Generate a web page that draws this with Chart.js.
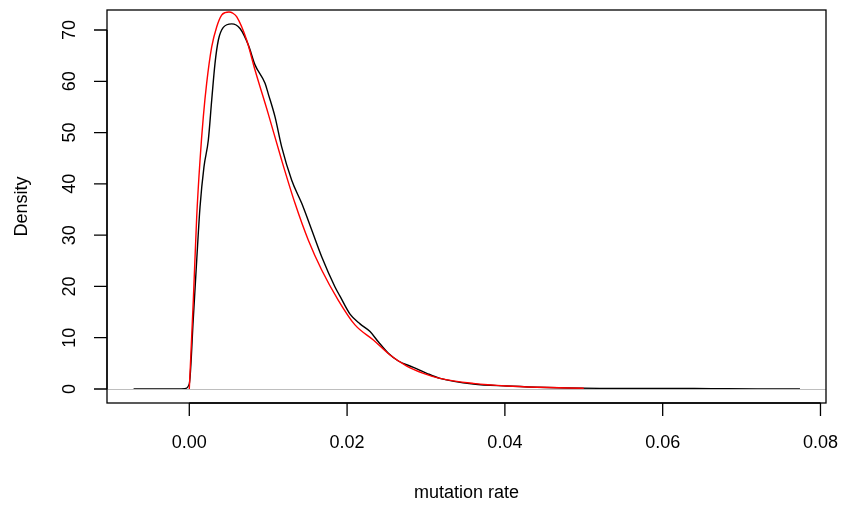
<!DOCTYPE html>
<html>
<head>
<meta charset="utf-8">
<script src="https://cdn.jsdelivr.net/npm/chart.js@4"></script>
<style>
  html, body { margin: 0; padding: 0; background: #fff; }
  #wrap { width: 843px; height: 506px; }
</style>
</head>
<body>
<div id="wrap"><canvas id="density-chart"></canvas></div>
<script>
const obsX = [-0.00706, -0.004, -0.002, -0.0006, 0, 0.0005, 0.00094, 0.00136, 0.00186, 0.00241,
    0.00284, 0.00326, 0.00368, 0.00431, 0.00538, 0.00643, 0.00748, 0.00833, 0.0096, 0.01,
    0.01086, 0.01171, 0.01298, 0.01425, 0.01552, 0.01678, 0.01847, 0.0191, 0.02037, 0.02164,
    0.02291, 0.02396, 0.02523, 0.0265, 0.0284, 0.0301, 0.03178, 0.036, 0.04024, 0.044,
    0.048, 0.052, 0.056, 0.06, 0.064, 0.068, 0.072, 0.0774];
const obsY = [0, 0, 0, 0.05, 1.0, 13.5, 25.1, 35.5, 43.3, 48.5,
    56.3, 63.5, 68.0, 70.5, 71.2, 70.3, 67.1, 63.2, 59.6, 57.6,
    53.1, 47.2, 40.7, 36.2, 31.0, 25.8, 19.9, 18.1, 14.6, 12.7,
    11.2, 9.2, 6.96, 5.46, 4.23, 3.06, 2.08, 0.97, 0.58, 0.35,
    0.2, 0.12, 0.1, 0.12, 0.1, 0.06, 0.03, 0.01];

// fitted density (red)
const fitX = [0, 0.00051, 0.00094, 0.00136, 0.00178, 0.0022, 0.00284, 0.00347, 0.0041, 0.00455,
    0.00503, 0.0055, 0.006, 0.00728, 0.00833, 0.01, 0.01171, 0.0134, 0.01509, 0.01678,
    0.01889, 0.021, 0.02333, 0.02544, 0.02756, 0.02967, 0.03178, 0.036, 0.04024, 0.04446,
    0.05];
const fitY = [0, 17.3, 33.6, 44.6, 53.1, 59.6, 66.7, 70.6, 72.9, 73.4,
    73.5, 73.3, 72.6, 68.0, 62.2, 53.7, 44.6, 36.2, 29.0, 23.2,
    17.3, 12.5, 9.55, 6.63, 4.48, 3.06, 2.08, 1.1, 0.58, 0.33,
    0.15];

const xTicks = [0, 0.02, 0.04, 0.06, 0.08];
const yTicks = [0, 10, 20, 30, 40, 50, 60, 70];

const xTitle = "mutation rate";
const yTitle = "Density";

const FONT = '18px "Liberation Sans", Arial, sans-serif';

const pairs = (xs, ys) => xs.map((x, i) => ({ x: x, y: ys[i] }));

// R-style box, axes, zero line and labels
const rFrame = {
    id: "rFrame",
    afterDatasetDraw(chart, args) {
        // zero line goes over the black curve, under the red one
        if (args.index !== 1) return;
        const { ctx, chartArea: a, scales } = chart;
        const y0 = Math.round(scales.y.getPixelForValue(0)) + 0.5;
        ctx.save();
        ctx.strokeStyle = "#bebebe";
        ctx.lineWidth = 1;
        ctx.beginPath();
        ctx.moveTo(a.left, y0);
        ctx.lineTo(a.right, y0);
        ctx.stroke();
        ctx.restore();
    },
    afterDraw(chart) {
        const { ctx, chartArea: a, scales } = chart;
        const xs = scales.x;
        const ys = scales.y;
        const tick = 13;
        ctx.save();
        ctx.strokeStyle = "#000";
        ctx.lineWidth = 1.3;
        ctx.strokeRect(a.left, a.top, a.right - a.left, a.bottom - a.top);

        ctx.fillStyle = "#000";
        ctx.font = FONT;

        // x axis
        ctx.beginPath();
        ctx.moveTo(xs.getPixelForValue(xTicks[0]), a.bottom);
        ctx.lineTo(xs.getPixelForValue(xTicks[xTicks.length - 1]), a.bottom);
        xTicks.forEach((t) => {
            const px = xs.getPixelForValue(t);
            ctx.moveTo(px, a.bottom);
            ctx.lineTo(px, a.bottom + tick);
        });
        ctx.stroke();
        ctx.textAlign = "center";
        ctx.textBaseline = "middle";
        xTicks.forEach((t) => {
            ctx.fillText(t.toFixed(2), xs.getPixelForValue(t), 443);
        });
        ctx.fillText(xTitle, (a.left + a.right) / 2, 493);

        // y axis
        ctx.beginPath();
        ctx.moveTo(a.left, ys.getPixelForValue(yTicks[0]));
        ctx.lineTo(a.left, ys.getPixelForValue(yTicks[yTicks.length - 1]));
        yTicks.forEach((t) => {
            const py = ys.getPixelForValue(t);
            ctx.moveTo(a.left, py);
            ctx.lineTo(a.left - tick, py);
        });
        ctx.stroke();
        yTicks.forEach((t) => {
            ctx.save();
            ctx.translate(70, ys.getPixelForValue(t));
            ctx.rotate(-Math.PI / 2);
            ctx.fillText(String(t), 0, 0);
            ctx.restore();
        });
        ctx.save();
        ctx.translate(22, (a.top + a.bottom) / 2);
        ctx.rotate(-Math.PI / 2);
        ctx.fillText(yTitle, 0, 0);
        ctx.restore();
        ctx.restore();
    },
};

const config = {
    type: "line",
    data: {
        datasets: [
            {
                label: "fit",
                data: pairs(fitX, fitY),
                borderColor: "#ff0000",
                borderWidth: 1.4,
                pointRadius: 0,
                cubicInterpolationMode: "monotone",
                fill: false,
            },
            {
                label: "density",
                data: pairs(obsX, obsY),
                borderColor: "#000000",
                borderWidth: 1.4,
                pointRadius: 0,
                cubicInterpolationMode: "monotone",
                fill: false,
            },
        ],
    },
    options: {
        responsive: false,
        animation: false,
        layout: {
            padding: { left: 107, top: 10, right: 17, bottom: 103 },
        },
        scales: {
            x: { type: "linear", display: false, min: -0.01043, max: 0.0807 },
            y: { type: "linear", display: false, min: -2.73, max: 73.9 },
        },
        plugins: {
            legend: { display: false },
            tooltip: { enabled: false },
        },
    },
    plugins: [rFrame],
};

const canvas = document.getElementById("density-chart");
canvas.width = 843;
canvas.height = 506;
new Chart(canvas, config);
</script>
</body>
</html>
